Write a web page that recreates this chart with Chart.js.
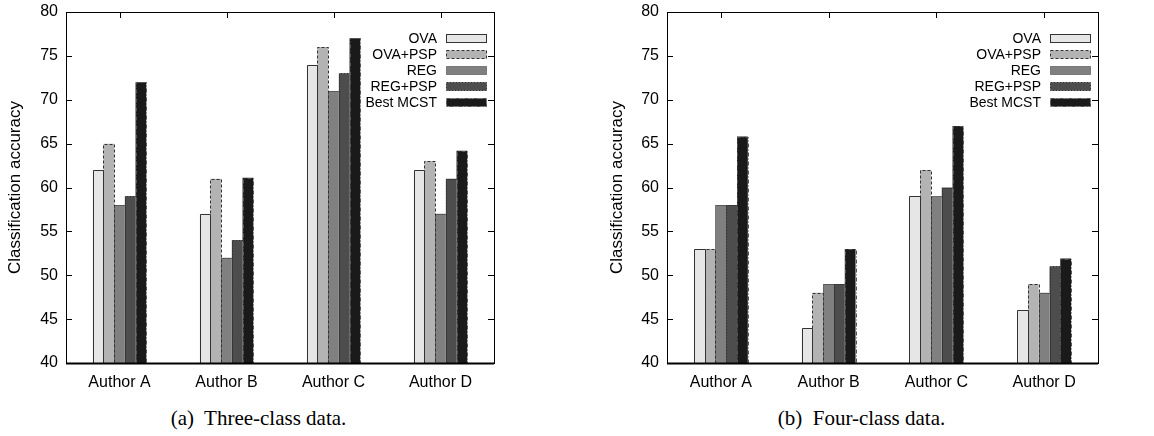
<!DOCTYPE html>
<html>
<head>
<meta charset="utf-8">
<script src="https://cdn.jsdelivr.net/npm/chart.js@4.4.1/dist/chart.umd.min.js"></script>
<style>
  html, body { margin: 0; padding: 0; background: #fff; width: 1154px; height: 436px; overflow: hidden; }
  #c1 { position: absolute; left: 0; top: 0; }
  #c2 { position: absolute; left: 577px; top: 0; }
  .cap { position: absolute; top: 406px; font-family: "Liberation Serif", "DejaVu Serif", serif; font-size: 21px; line-height: 24px; color: #000; text-align: center; width: 577px; white-space: pre; }
</style>
</head>
<body>
<canvas id="c1" width="577" height="400"></canvas>
<canvas id="c2" width="577" height="400"></canvas>
<div class="cap" style="left:-30px">(a)  Three-class data.</div>
<div class="cap" style="left:573px">(b)  Four-class data.</div>
<script>
// ---- data ----
const categories = ['Author A', 'Author B', 'Author C', 'Author D'];
const seriesNames = ['OVA', 'OVA+PSP', 'REG', 'REG+PSP', 'Best MCST'];
const yTicks = [40, 45, 50, 55, 60, 65, 70, 75, 80];

// (a) Three-class data
const threeOVA     = [62, 57, 74, 62];
const threeOVAPSP  = [65, 61, 76, 63];
const threeREG     = [58, 52, 71, 57];
const threeREGPSP  = [59, 54, 73, 61];
const threeBest    = [72, 61.1, 77, 64.2];

// (b) Four-class data
const fourOVA      = [53, 44, 59, 46];
const fourOVAPSP   = [53, 48, 62, 49];
const fourREG      = [58, 49, 59, 48];
const fourREGPSP   = [58, 49, 60, 51];
const fourBest     = [65.8, 53, 67, 51.9];

// ---- styles ----
const fills  = ['#e6e6e6', '#b3b3b3', '#808080', '#4d4d4d', '#1a1a1a'];
const strokes = ['#333', '#333', '#333', '#333', '#555'];
const dashes = [[], [3, 2], [1, 1], [2, 1], [4, 2, 1, 2]];
const FONT = '"Liberation Sans", Arial, Helvetica, sans-serif';

const framePlugin = {
  id: 'frame',
  beforeDatasetsDraw(chart) {
    const { ctx, chartArea: a, scales } = chart;
    ctx.save();
    ctx.strokeStyle = '#000';
    ctx.lineWidth = 1;
    const L = 6;
    scales.y.ticks.forEach(t => {
      const y = Math.round(scales.y.getPixelForValue(t.value)) + 0.5;
      ctx.beginPath();
      ctx.moveTo(a.left, y); ctx.lineTo(a.left + L, y);
      ctx.moveTo(a.right, y); ctx.lineTo(a.right - L, y);
      ctx.stroke();
    });
    categories.forEach((c, i) => {
      const x = Math.round(scales.x.getPixelForValue(i)) + 0.5;
      ctx.beginPath();
      ctx.moveTo(x, a.top); ctx.lineTo(x, a.top + L);
      ctx.moveTo(x, a.bottom); ctx.lineTo(x, a.bottom - L);
      ctx.stroke();
    });
    ctx.restore();
  },
  afterDatasetsDraw(chart) {
    const { ctx, chartArea: a } = chart;
    ctx.save();
    // bar outlines with dash patterns
    chart.data.datasets.forEach((ds, di) => {
      const meta = chart.getDatasetMeta(di);
      ctx.strokeStyle = strokes[di];
      ctx.lineWidth = 1;
      ctx.setLineDash(dashes[di]);
      meta.data.forEach(el => {
        const x0 = Math.round(el.x - el.width / 2) + 0.5;
        const x1 = Math.round(el.x + el.width / 2) + 0.5;
        const y0 = Math.round(Math.max(el.y, a.top)) + 0.5;
        const y1 = Math.round(Math.min(el.base, a.bottom)) + 0.5;
        ctx.beginPath();
        ctx.moveTo(x0, y1); ctx.lineTo(x0, y0); ctx.lineTo(x1, y0); ctx.lineTo(x1, y1);
        ctx.stroke();
      });
    });
    ctx.setLineDash([]);
    // frame
    ctx.strokeStyle = '#000';
    ctx.lineWidth = 1;
    ctx.strokeRect(Math.round(a.left) + 0.5, Math.round(a.top) + 0.5, Math.round(a.right - a.left), Math.round(a.bottom - a.top));
    ctx.lineWidth = 2;
    ctx.beginPath();
    ctx.moveTo(a.left, Math.round(a.bottom) + 0.5); ctx.lineTo(a.right, Math.round(a.bottom) + 0.5);
    ctx.stroke();
    // legend
    ctx.font = '14px ' + FONT;
    ctx.textAlign = 'right';
    ctx.textBaseline = 'middle';
    chart.data.datasets.forEach((ds, i) => {
      const y = a.top + 26 + i * 16;
      ctx.fillStyle = '#000';
      ctx.fillText(ds.label, a.right - 57, y + 1);
      const bx = Math.round(a.right - 48) + 0.5, by = Math.round(y - 4) + 0.5;
      ctx.fillStyle = ds.backgroundColor;
      ctx.fillRect(bx, by, 40, 8);
      ctx.strokeStyle = strokes[i];
      ctx.lineWidth = 1;
      ctx.setLineDash(dashes[i]);
      ctx.strokeRect(bx, by, 40, 8);
      ctx.setLineDash([]);
    });
    ctx.restore();
  }
};

function makeChart(id, seriesData, yWidth, padLeft, padRight) {
  const datasets = seriesNames.map((name, i) => ({
    label: name,
    data: seriesData[i],
    backgroundColor: fills[i],
    borderWidth: 0,
    categoryPercentage: 0.5,
    barPercentage: 1.0
  }));
  return new Chart(document.getElementById(id), {
    type: 'bar',
    data: { labels: categories, datasets },
    plugins: [framePlugin],
    options: {
      responsive: false,
      animation: false,
      devicePixelRatio: 1,
      layout: { padding: { left: padLeft, right: padRight, top: 12, bottom: 0 } },
      plugins: { legend: { display: false }, tooltip: { enabled: false } },
      scales: {
        x: {
          type: 'category',
          offset: true,
          grid: { display: false },
          border: { display: false },
          ticks: { color: '#000', font: { family: FONT, size: 16 }, padding: 2, maxRotation: 0 },
          afterFit(s) { s.height = 37; }
        },
        y: {
          min: 40, max: 80,
          afterBuildTicks(s) { s.ticks = yTicks.map(v => ({ value: v })); },
          grid: { display: false },
          border: { display: false },
          ticks: { color: '#000', font: { family: FONT, size: 16 }, padding: 0 },
          title: { display: true, text: 'Classification accuracy', color: '#000', font: { family: FONT, size: 17 }, padding: { top: 5, bottom: 0 } },
          afterFit(s) { s.width = yWidth; }
        }
      }
    }
  });
}

makeChart('c1', [threeOVA, threeOVAPSP, threeREG, threeREGPSP, threeBest], 66, 0, 83);
makeChart('c2', [fourOVA, fourOVAPSP, fourREG, fourREGPSP, fourBest], 65, 25, 56);
</script>
</body>
</html>
